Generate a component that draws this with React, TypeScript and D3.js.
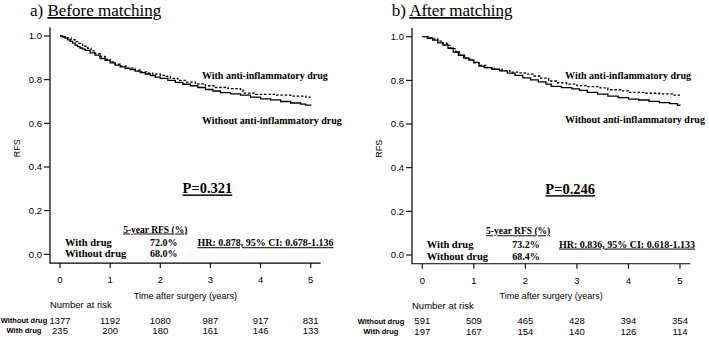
import React from "react";
import * as d3 from "d3";

const SERIF = "'Liberation Serif', 'Times New Roman', serif";
const SANS = "'Liberation Sans', Arial, Helvetica, sans-serif";

const years = [0, 1, 2, 3, 4, 5];
const rfsTicks = [0, 0.2, 0.4, 0.6, 0.8, 1.0];
const groupLabels = ["With drug", "Without drug"];
const riskLabels = ["Without drug", "With drug"];

// Kaplan-Meier step points [years, RFS] - before matching
const beforeWithout: [number, number][] = [
  [0, 1.0], [0.05, 0.995], [0.1, 0.99], [0.15, 0.982], [0.2, 0.975], [0.25, 0.967],
  [0.3, 0.958], [0.35, 0.951], [0.4, 0.945], [0.45, 0.94], [0.5, 0.934], [0.6, 0.923],
  [0.7, 0.912], [0.8, 0.897], [0.9, 0.888], [1.0, 0.877], [1.1, 0.867], [1.2, 0.859],
  [1.3, 0.852], [1.4, 0.846], [1.5, 0.839], [1.6, 0.832], [1.7, 0.826], [1.8, 0.819],
  [1.9, 0.812], [2.0, 0.806], [2.15, 0.797], [2.3, 0.788], [2.45, 0.779], [2.6, 0.772],
  [2.75, 0.764], [2.9, 0.755], [3.05, 0.748], [3.2, 0.741], [3.4, 0.735], [3.6, 0.729],
  [3.8, 0.72], [4.0, 0.712], [4.2, 0.707], [4.4, 0.7], [4.6, 0.693], [4.8, 0.688],
  [4.9, 0.683], [5.0, 0.68],
];
const beforeWith: [number, number][] = [
  [0, 1.0], [0.08, 0.996], [0.15, 0.991], [0.22, 0.983], [0.3, 0.974], [0.38, 0.966],
  [0.45, 0.953], [0.55, 0.944], [0.62, 0.932], [0.7, 0.919], [0.8, 0.906], [0.9, 0.893],
  [1.0, 0.881], [1.1, 0.871], [1.2, 0.862], [1.35, 0.853], [1.5, 0.844], [1.6, 0.836],
  [1.75, 0.83], [1.85, 0.825], [2.0, 0.82], [2.1, 0.815], [2.2, 0.806], [2.35, 0.797],
  [2.5, 0.789], [2.7, 0.781], [2.9, 0.772], [3.1, 0.764], [3.35, 0.759], [3.6, 0.754],
  [3.65, 0.738], [3.9, 0.733], [4.3, 0.729], [4.6, 0.725], [4.9, 0.72], [5.0, 0.72],
];
const beforeRiskWithout = [1377, 1192, 1080, 987, 917, 831];
const beforeRiskWith = [235, 200, 180, 161, 146, 133];
const beforeRfs = ["72.0%", "68.0%"];

// after matching
const afterWithout: [number, number][] = [
  [0, 1.0], [0.1, 0.993], [0.2, 0.984], [0.3, 0.972], [0.4, 0.962], [0.5, 0.947],
  [0.6, 0.93], [0.7, 0.915], [0.8, 0.903], [0.9, 0.894], [1.0, 0.882], [1.1, 0.865],
  [1.2, 0.858], [1.35, 0.851], [1.5, 0.843], [1.65, 0.833], [1.8, 0.823], [1.95, 0.811],
  [2.1, 0.802], [2.25, 0.793], [2.4, 0.783], [2.5, 0.772], [2.7, 0.767], [2.9, 0.761],
  [3.05, 0.754], [3.2, 0.745], [3.4, 0.737], [3.6, 0.728], [3.8, 0.721], [4.0, 0.714],
  [4.2, 0.71], [4.4, 0.704], [4.6, 0.698], [4.8, 0.693], [4.95, 0.686], [5.0, 0.684],
];
const afterWith: [number, number][] = [
  [0, 1.0], [0.12, 0.995], [0.22, 0.99], [0.3, 0.98], [0.4, 0.97], [0.48, 0.96],
  [0.55, 0.945], [0.65, 0.93], [0.72, 0.915], [0.82, 0.9], [0.92, 0.89], [1.0, 0.88],
  [1.1, 0.868], [1.25, 0.858], [1.4, 0.85], [1.55, 0.845], [1.7, 0.838], [1.85, 0.834],
  [2.0, 0.829], [2.15, 0.82], [2.3, 0.81], [2.45, 0.797], [2.6, 0.789], [2.8, 0.783],
  [3.0, 0.776], [3.2, 0.771], [3.45, 0.766], [3.6, 0.757], [3.85, 0.752], [4.0, 0.745],
  [4.3, 0.741], [4.6, 0.738], [4.85, 0.732], [5.0, 0.732],
];
const afterRiskWithout = [591, 509, 465, 428, 394, 354];
const afterRiskWith = [197, 167, 154, 140, 126, 114];
const afterRfs = ["73.2%", "68.4%"];

interface PanelProps {
  tag: string;
  title: string;
  titleX: number;
  xRange: [number, number];
  yRange: [number, number];
  withDrug: [number, number][];
  withoutDrug: [number, number][];
  riskWithout: number[];
  riskWith: number[];
  rfs: string[];
  pValue: string;
  hr: string;
  // annotation anchors in data units
  labelAt: { x: number; yWith: number; yWithout: number };
  pAt: [number, number];
  table: { header: number; headerY: number; label: number; value: number; hr: number; rows: [number, number] };
  riskLabelX: number;
}

const Panel: React.FC<PanelProps> = (p) => {
  const x = d3.scaleLinear().domain([0, 5]).range(p.xRange);
  const y = d3.scaleLinear().domain([0, 1]).range(p.yRange);

  // R-style axis frame: 4% padding around the data range
  const left = x(-0.2);
  const right = x(5.2);
  const top = y(1.04);
  const base = y(-0.04);

  const line = d3
    .line<[number, number]>()
    .x((d) => x(d[0]))
    .y((d) => y(d[1]))
    .curve(d3.curveStepAfter);

  const ink = "#000";

  return (
    <g>
      <text x={p.titleX} y={16} fontFamily={SERIF} fontSize={17} fill={ink}>
        {p.tag}{" "}
        <tspan style={{ textDecoration: "underline" }}>{p.title}</tspan>
      </text>

      {/* L-shaped frame */}
      <path d={`M${left},${top}V${base}H${right}`} fill="none" stroke={ink} strokeWidth={1.2} />

      {rfsTicks.map((t) => (
        <g key={t}>
          <line x1={left} x2={left - 6} y1={y(t)} y2={y(t)} stroke={ink} strokeWidth={1.1} />
          <text x={left - 8} y={y(t)} dy="0.35em" textAnchor="end" fontFamily={SANS} fontSize={9.5} fill={ink}>
            {d3.format(".1f")(t)}
          </text>
        </g>
      ))}
      {years.map((t) => (
        <g key={t}>
          <line x1={x(t)} x2={x(t)} y1={base} y2={base + 5} stroke={ink} strokeWidth={1.1} />
          <text x={x(t)} y={base + 17} dy="0.35em" textAnchor="middle" fontFamily={SANS} fontSize={9.5} fill={ink}>
            {t}
          </text>
        </g>
      ))}

      <text
        transform={`translate(${left - 30},${(top + base) / 2 + 3}) rotate(-90)`}
        textAnchor="middle"
        fontFamily={SANS}
        fontSize={9}
        fill={ink}
      >
        RFS
      </text>
      <text x={(x(0) + x(5)) / 2} y={base + 32.5} dy="0.35em" textAnchor="middle" fontFamily={SANS} fontSize={9} fill={ink}>
        Time after surgery (years)
      </text>

      {/* survival curves */}
      <path d={line(p.withoutDrug) ?? ""} fill="none" stroke={ink} strokeWidth={1.3} />
      <path d={line(p.withDrug) ?? ""} fill="none" stroke={ink} strokeWidth={1.3} strokeDasharray="2.5,1.8" />

      <g fontFamily={SERIF} fontWeight="bold" fontSize={10} fill={ink}>
        <text x={x(p.labelAt.x)} y={y(p.labelAt.yWith)} dy="0.35em">With anti-inflammatory drug</text>
        <text x={x(p.labelAt.x)} y={y(p.labelAt.yWithout)} dy="0.35em">Without anti-inflammatory drug</text>

        <text x={x(p.pAt[0])} y={y(p.pAt[1])} dy="0.35em" textAnchor="middle" fontSize={14.5} style={{ textDecoration: "underline" }}>
          {p.pValue}
        </text>

        <text x={x(p.table.header)} y={y(p.table.headerY)} dy="0.35em" textAnchor="middle" fontSize={9.5} style={{ textDecoration: "underline" }}>
          5-year RFS (%)
        </text>
        {groupLabels.map((g, i) => (
          <g key={g}>
            <text x={x(p.table.label)} y={y(p.table.rows[i])} dy="0.35em" fontSize={10.5}>{g}</text>
            <text x={x(p.table.value)} y={y(p.table.rows[i])} dy="0.35em" textAnchor="middle">{p.rfs[i]}</text>
          </g>
        ))}
        <text x={x(p.table.hr)} y={y(p.table.rows[0])} dy="0.35em" style={{ textDecoration: "underline" }}>
          {p.hr}
        </text>
      </g>

      {/* number at risk */}
      <text x={left} y={base + 42} dy="0.35em" fontFamily={SANS} fontSize={9.5} fill={ink}>
        Number at risk
      </text>
      {[p.riskWithout, p.riskWith].map((row, r) => (
        <g key={r}>
          <text x={p.riskLabelX} y={base + 57.3 + r * 10.4} dy="0.35em" textAnchor="middle" fontFamily={SANS} fontWeight="bold" fontSize={7.5} fill={ink}>
            {riskLabels[r]}
          </text>
          {row.map((n, i) => (
            <text key={i} x={x(years[i])} y={base + 57.3 + r * 10.4} dy="0.35em" textAnchor="middle" fontFamily={SANS} fontSize={9.5} fill={ink}>
              {n}
            </text>
          ))}
        </g>
      ))}
    </g>
  );
};

export default function App() {
  return (
    <svg width={709} height={337} style={{ position: "absolute", left: 0, top: 0, background: "#fff" }}>
      <rect width={709} height={337} fill="#fff" />
      <Panel
        tag="a)"
        title="Before matching"
        titleX={30}
        xRange={[60, 310.7]}
        yRange={[254.3, 36]}
        withDrug={beforeWith}
        withoutDrug={beforeWithout}
        riskWithout={beforeRiskWithout}
        riskWith={beforeRiskWith}
        rfs={beforeRfs}
        pValue="P=0.321"
        hr="HR: 0.878, 95% CI: 0.678-1.136"
        labelAt={{ x: 2.83, yWith: 0.821, yWithout: 0.612 }}
        pAt={[2.94, 0.302]}
        table={{ header: 1.9, headerY: 0.115, label: 0.1, value: 2.07, hr: 2.74, rows: [0.053, 0.005] }}
        riskLabelX={24}
      />
      <Panel
        tag="b)"
        title="After matching"
        titleX={391.7}
        xRange={[422.3, 680]}
        yRange={[255, 36.7]}
        withDrug={afterWith}
        withoutDrug={afterWithout}
        riskWithout={afterRiskWithout}
        riskWith={afterRiskWith}
        rfs={afterRfs}
        pValue="P=0.246"
        hr="HR: 0.836, 95% CI: 0.618-1.133"
        labelAt={{ x: 2.77, yWith: 0.82, yWithout: 0.622 }}
        pAt={[2.87, 0.302]}
        table={{ header: 1.86, headerY: 0.11, label: 0.085, value: 2.01, hr: 2.65, rows: [0.05, -0.008] }}
        riskLabelX={381}
      />
    </svg>
  );
}
